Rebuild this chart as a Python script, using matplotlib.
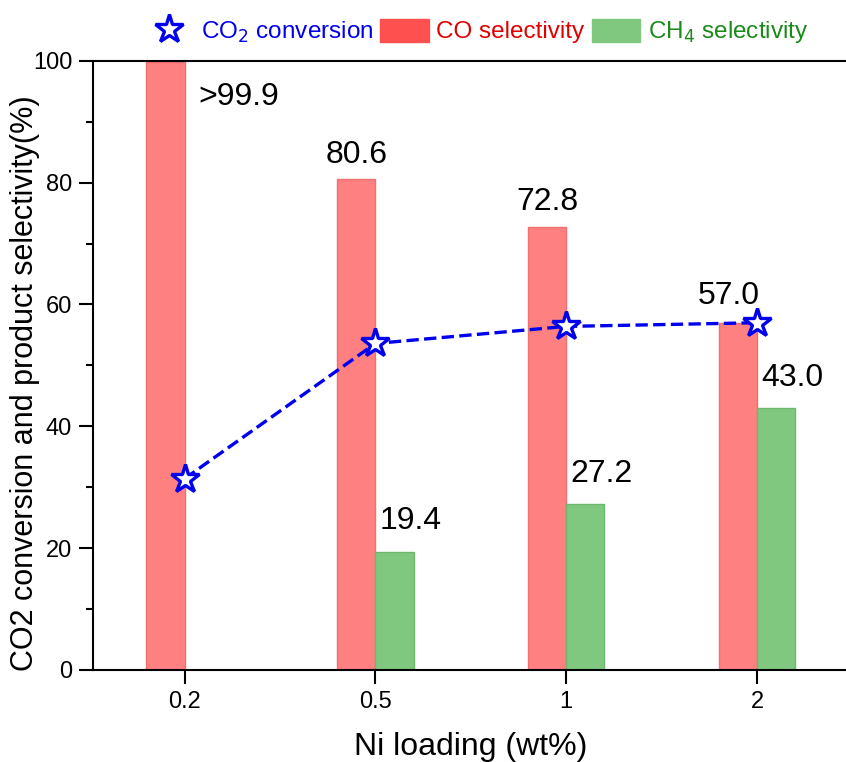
import numpy as np
import matplotlib.pyplot as plt
from matplotlib.patches import Patch
from matplotlib.lines import Line2D
from matplotlib.ticker import MultipleLocator

plt.rcParams['font.family'] = ['Liberation Sans', 'DejaVu Sans']

loadings = ['0.2', '0.5', '1', '2']
co_sel = [99.9, 80.6, 72.8, 57.0]
ch4_sel = [0.0, 19.4, 27.2, 43.0]
co2_conv = [31.4, 53.6, 56.4, 57.0]
co_labels = ['>99.9', '80.6', '72.8', '57.0']
ch4_labels = ['', '19.4', '27.2', '43.0']

x = np.arange(len(loadings))
w = 0.2

fig = plt.figure(figsize=(8.46, 7.62), dpi=100)
ax = fig.add_axes([0.110, 0.121, 0.893, 0.799])

ax.bar(x - w / 2, co_sel, w, color='#ff8080', edgecolor='#f07070', linewidth=1)
ax.bar(x + w / 2, ch4_sel, w, color='#80c880', edgecolor='#6cb86c', linewidth=1)
ax.plot(x, co2_conv, '--', color='#0000ee', lw=2.4, marker='*', ms=21,
        mfc='white', mec='#0000ee', mew=2.4, zorder=5)

fs = 23
for i in range(len(x)):
    if i == 0:
        ax.text(x[i] + 0.07, co_sel[i] - 3.3, co_labels[i], fontsize=fs,
                ha='left', va='top')
    elif i == 3:
        ax.text(x[i] - 0.15, co_sel[i] + 2.0, co_labels[i], fontsize=fs,
                ha='center', va='bottom')
    else:
        ax.text(x[i] - w / 2, co_sel[i] + 1.5, co_labels[i], fontsize=fs,
                ha='center', va='bottom')
    if ch4_labels[i]:
        ax.text(x[i] + w / 2 + 0.085, ch4_sel[i] + 2.5, ch4_labels[i], fontsize=fs,
                ha='center', va='bottom')

ax.set_xlim(-0.48, 3.48)
ax.set_ylim(0, 100)
ax.set_xticks(x)
ax.set_xticklabels(loadings)
ax.yaxis.set_major_locator(MultipleLocator(20))
ax.yaxis.set_minor_locator(MultipleLocator(10))
ax.tick_params(axis='both', which='major', direction='out', length=10, width=1.5,
               labelsize=17, pad=5)
ax.tick_params(axis='y', which='minor', direction='out', length=5, width=1.5)
for s in ax.spines.values():
    s.set_linewidth(1.5)

ax.set_xlabel('Ni loading (wt%)', fontsize=23, labelpad=14)
ax.set_ylabel('CO2 conversion and product selectivity(%)', fontsize=22)
ax.yaxis.set_label_coords(-0.070, 0.47)

handles = [
    Line2D([], [], ls='none', marker='*', ms=21, mfc='white', mec='#0000ee', mew=2.4),
    Patch(facecolor='#ff5050', edgecolor='#ff5050'),
    Patch(facecolor='#80c880', edgecolor='#80c880'),
]
labels = ['CO$_2$ conversion', 'CO selectivity', 'CH$_4$ selectivity']
leg = fig.legend(handles, labels, loc='center left', bbox_to_anchor=(0.171, 0.958),
                 ncol=3, frameon=False, fontsize=17.5, handlelength=2.0,
                 handletextpad=0.3, columnspacing=0.3, handleheight=1.1,
                 borderpad=0, borderaxespad=0)
for t, c in zip(leg.get_texts(), ['#0000ee', '#e00000', '#1a8a1a']):
    t.set_color(c)

fig.savefig('out.png', dpi=100)
